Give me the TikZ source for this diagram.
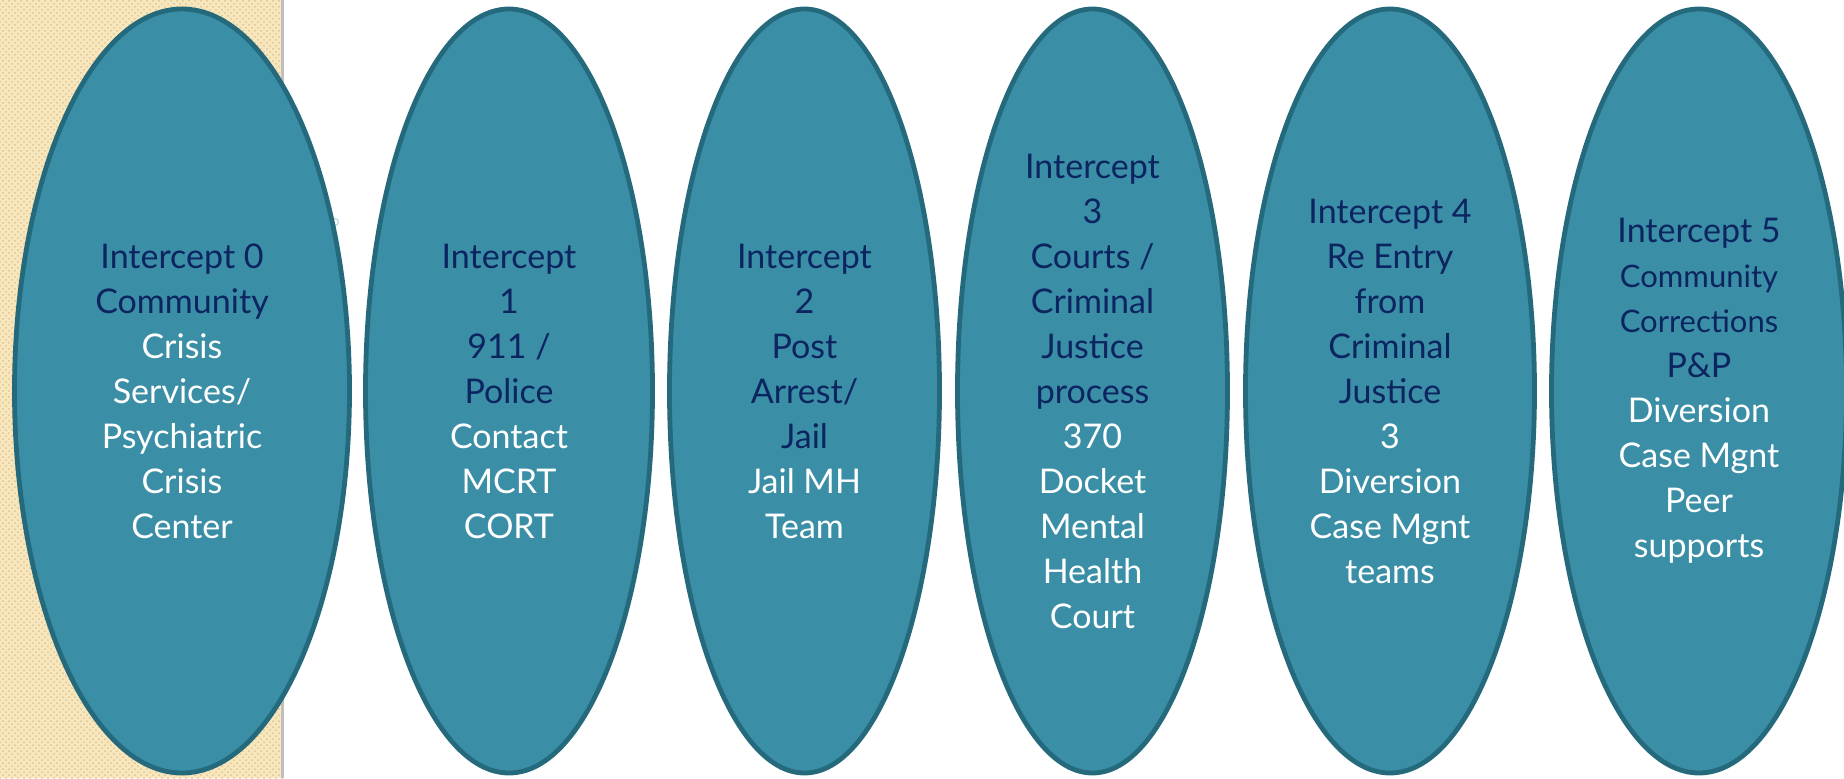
\documentclass[tikz,border=0pt]{standalone}
\usepackage{fontspec}
\setmainfont{Lato}
\usetikzlibrary{shapes.geometric, patterns}

\definecolor{stagefill}{RGB}{58,143,167}
\definecolor{stageline}{RGB}{37,106,124}
\definecolor{navytext}{RGB}{12,36,96}
\definecolor{stripbeige}{RGB}{248,230,188}
\definecolor{stripdot}{RGB}{222,198,150}

\newcommand{\wt}[1]{\textcolor{white}{#1}}

\tikzset{
  stage/.style={ellipse, draw=stageline, fill=stagefill, line width=2.4pt,
    minimum height=382pt, inner sep=0pt, align=center, text=navytext,
    font=\fontsize{17}{22.5}\selectfont}
}

\begin{document}
\begin{tikzpicture}[x=0.5pt, y=0.5pt]

    \useasboundingbox (0,0) rectangle (1844,778);
    \fill[white] (0,0) rectangle (1844,778);

    % Left strip
    \fill[stripbeige] (0,0) rectangle (283,778);
    \path[pattern=crosshatch dots, pattern color=stripdot] (0,0) rectangle (283,778);
    \draw[black!25, line width=1.5pt] (282,0) -- (282,778);

    % small mark beside the first ellipse
    \draw[stagefill!35, line width=0.6pt] (335,556) circle (3.5);

    % The intercepts
    \node[stage, minimum width=167.5pt] (i0) at (182,387)
      {Intercept 0\\Community\\\wt{Crisis}\\\wt{Services/}\\\wt{Psychiatric}\\\wt{Crisis}\\\wt{Center}};
    \node[stage, minimum width=143.5pt] (i1) at (509,387)
      {Intercept\\1\\911 /\\Police\\\wt{Contact}\\\wt{MCRT}\\\wt{CORT}};
    \node[stage, minimum width=135pt] (i2) at (804.5,387)
      {Intercept\\2\\Post\\Arrest/\\Jail\\\wt{Jail MH}\\\wt{Team}};
    \node[stage, minimum width=135pt] (i3) at (1092.5,387)
      {Intercept\\3\\Courts /\\Criminal\\Justice\\process\\\wt{370}\\\wt{Docket}\\\wt{Mental}\\\wt{Health}\\\wt{Court}};
    \node[stage, minimum width=144.5pt] (i4) at (1390,387)
      {Intercept 4\\Re Entry\\from\\Criminal\\Justice\\\wt{3}\\\wt{Diversion}\\\wt{Case Mgnt}\\\wt{teams}};
    \node[stage, minimum width=147.5pt] (i5) at (1699,387)
      {Intercept 5\\{\fontsize{15.5}{20.5}\selectfont Community}\\{\fontsize{15.5}{20.5}\selectfont Corrections}\\P\&P\\\wt{Diversion}\\\wt{Case Mgnt}\\\wt{Peer}\\\wt{supports}};

\end{tikzpicture}
\end{document}
